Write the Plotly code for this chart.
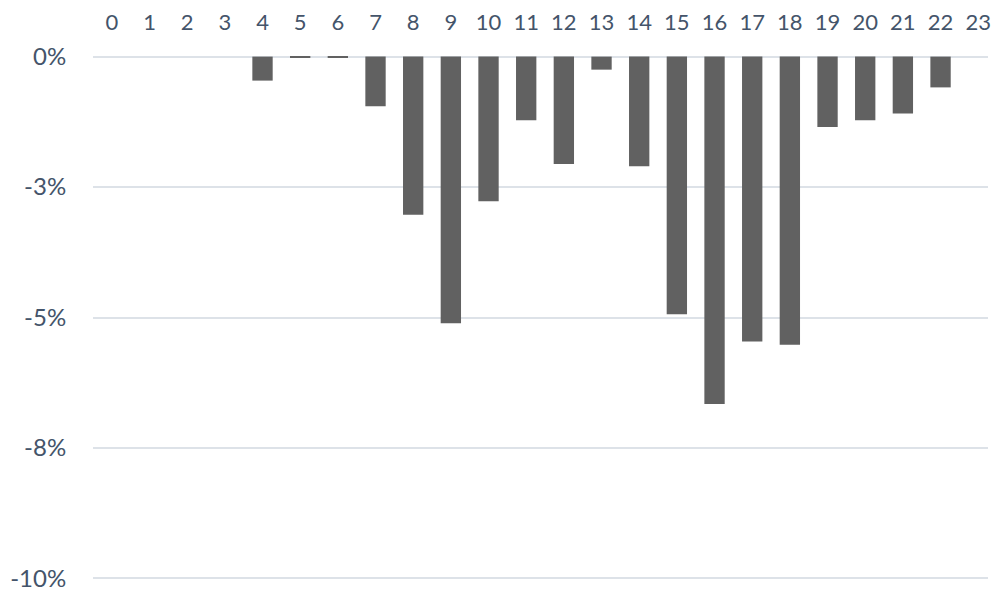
import plotly.graph_objects as go

hours = list(range(24))
values = [0.0, 0.0, 0.0, 0.0, -0.0046, -0.0002, -0.0002, -0.0095, -0.0303, -0.0511,
          -0.0277, -0.0122, -0.0206, -0.0025, -0.0210, -0.0494, -0.0666, -0.0546,
          -0.0552, -0.0135, -0.0122, -0.0109, -0.0059, 0.0]
y_tickvals = [0, -0.025, -0.05, -0.075, -0.10]
y_ticktext = ["0%", "-3%", "-5%", "-8%", "-10%"]

text_color = "#44546A"
grid_color = "#DDE2E8"

fig = go.Figure(go.Bar(
    x=hours, y=values,
    marker=dict(color="#616161", line=dict(width=0)),
    width=0.54,
))

fig.update_layout(
    width=991, height=592,
    margin=dict(l=93, r=0, t=54, b=9),
    paper_bgcolor="white", plot_bgcolor="white",
    font=dict(family="Lato, Carlito, sans-serif", size=22, color=text_color),
    showlegend=False,
)
fig.update_xaxes(
    side="top", range=[-0.5, 23.26],
    tickmode="array", tickvals=hours, ticktext=[str(h) for h in hours],
    showgrid=False, zeroline=False, showline=False,
    ticks="outside", ticklen=14, tickcolor="rgba(0,0,0,0)",
    tickfont=dict(size=22, color=text_color),
    ticklabeloverflow="allow",
)
fig.update_yaxes(
    range=[-0.1005, 0.0005],
    tickmode="array", tickvals=y_tickvals, ticktext=y_ticktext,
    showgrid=True, gridcolor=grid_color, gridwidth=1.5,
    zeroline=True, zerolinecolor=grid_color, zerolinewidth=1.5,
    showline=False,
    ticks="outside", ticklen=21, tickcolor="rgba(0,0,0,0)",
    tickfont=dict(size=24, color=text_color),
    ticklabeloverflow="allow",
)

fig.write_html("out.html", config={"displayModeBar": False})
with open("out.html", "r", encoding="utf-8") as f:
    html = f.read()
html = html.replace("<head>", "<head><style>html,body{margin:0;padding:0;overflow:hidden;}</style>", 1)
with open("out.html", "w", encoding="utf-8") as f:
    f.write(html)
